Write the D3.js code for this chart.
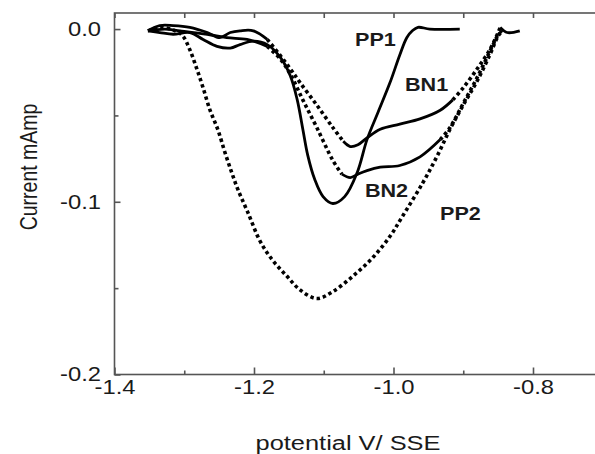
<!DOCTYPE html>
<html>
<head>
<meta charset="utf-8">
<script src="https://cdn.jsdelivr.net/npm/d3@7"></script>
<style>
  body { margin: 0; background: #fff; }
  text { font-family: "Liberation Sans", Arial, sans-serif; fill: #1a1a1a; }
</style>
</head>
<body>
<div id="chart"></div>
<script>
// curves: [potential V, current mA]
const pp1 = [[-1.352,-0.001],[-1.335,-0.002],[-1.316,-0.003],[-1.292,-0.002],[-1.273,-0.006],[-1.253,-0.010],
  [-1.234,-0.011],[-1.220,-0.009],[-1.201,-0.007],[-1.181,-0.009],[-1.163,-0.016],[-1.148,-0.027],[-1.138,-0.041],
  [-1.130,-0.058],[-1.123,-0.073],[-1.113,-0.087],[-1.101,-0.097],[-1.087,-0.101],[-1.070,-0.097],[-1.052,-0.083],
  [-1.038,-0.064],[-1.022,-0.048],[-1.005,-0.031],[-0.991,-0.015],[-0.981,-0.005],[-0.973,-0.001],[-0.965,0.001],
  [-0.948,0.000],[-0.905,0.000]];
const bn1 = [[-1.352,-0.001],[-1.335,0.002],[-1.316,0.002],[-1.292,0.001],[-1.267,-0.002],[-1.249,-0.005],
  [-1.234,-0.002],[-1.220,-0.001],[-1.201,-0.001],[-1.181,-0.006],[-1.163,-0.015],[-1.148,-0.023],[-1.134,-0.031],
  [-1.110,-0.044],[-1.087,-0.057],[-1.072,-0.065],[-1.062,-0.068],[-1.051,-0.067],[-1.038,-0.063],[-1.019,-0.058],
  [-0.991,-0.055],[-0.962,-0.052],[-0.933,-0.047],[-0.915,-0.041],[-0.900,-0.034],[-0.880,-0.023],[-0.862,-0.012],
  [-0.850,-0.002],[-0.847,0.001],[-0.837,-0.002],[-0.819,-0.001]];
const bn2 = [[-1.352,-0.001],[-1.328,0.000],[-1.306,-0.001],[-1.267,-0.003],[-1.239,-0.005],[-1.210,-0.006],
  [-1.181,-0.010],[-1.163,-0.017],[-1.148,-0.026],[-1.130,-0.041],[-1.110,-0.057],[-1.087,-0.076],[-1.074,-0.084],
  [-1.062,-0.086],[-1.051,-0.084],[-1.038,-0.082],[-1.019,-0.080],[-0.991,-0.079],[-0.962,-0.074],[-0.933,-0.064],
  [-0.919,-0.057],[-0.900,-0.043],[-0.880,-0.028],[-0.862,-0.013],[-0.850,-0.003],[-0.844,-0.001]];
const pp2 = [[-1.352,-0.001],[-1.335,0.001],[-1.313,-0.001],[-1.302,-0.004],[-1.292,-0.012],[-1.282,-0.023],
  [-1.273,-0.034],[-1.263,-0.047],[-1.252,-0.058],[-1.242,-0.071],[-1.232,-0.083],[-1.223,-0.093],[-1.209,-0.106],
  [-1.191,-0.123],[-1.173,-0.134],[-1.153,-0.143],[-1.134,-0.151],[-1.110,-0.156],[-1.087,-0.152],[-1.058,-0.143],
  [-1.029,-0.132],[-1.005,-0.120],[-0.988,-0.109],[-0.958,-0.089],[-0.938,-0.074],[-0.919,-0.058],[-0.900,-0.044],
  [-0.880,-0.030],[-0.862,-0.015],[-0.850,-0.004],[-0.844,-0.001]];

const xMajorTicks = [-1.4, -1.2, -1.0, -0.8];
const xMinorTicks = [-1.3, -1.1, -0.9, -0.7];
const yMajorTicks = [0.0, -0.1, -0.2];
const yMinorTicks = [-0.05, -0.15];

var W = 595, H = 454;
var frame = {left: 114.5, top: 13, right: 602.75, bottom: 374.5};
var stretch = 1.22; // the source picture is widened horizontally

var svg = d3.select("#chart").append("svg")
    .attr("width", W).attr("height", H);

var x = d3.scaleLinear().domain([-1.4, -0.7]).range([frame.left, frame.right]);
var y = d3.scaleLinear().domain([-0.2, 0.0093]).range([frame.bottom, frame.top]);

var fmt = function(d) { return d.toFixed(1); };

// frame
svg.append("rect")
  .attr("x", frame.left).attr("y", frame.top)
  .attr("width", frame.right - frame.left).attr("height", frame.bottom - frame.top)
  .attr("fill", "none").attr("stroke", "#555").attr("stroke-width", 1.6);

function tidy(g) {
  g.select(".domain").remove();
  g.selectAll(".tick line").attr("stroke", "#555").attr("stroke-width", 1.6);
}

// bottom axis
svg.append("g").attr("transform", "translate(0," + frame.bottom + ")")
  .call(d3.axisBottom(x).tickValues(xMajorTicks).tickSize(-7).tickPadding(6).tickFormat(fmt))
  .call(tidy)
  .selectAll("text").attr("font-size", 19.5).attr("fill", "#1a1a1a")
    .attr("transform", "scale(" + stretch + ",1)");
svg.append("g").attr("transform", "translate(0," + frame.bottom + ")")
  .call(d3.axisBottom(x).tickValues(xMinorTicks).tickSize(-4).tickFormat(""))
  .call(tidy);

// top axis
svg.append("g").attr("transform", "translate(0," + frame.top + ")")
  .call(d3.axisTop(x).tickValues(xMajorTicks.concat(xMinorTicks)).tickSize(-5).tickFormat(""))
  .call(tidy);

// left axis
svg.append("g").attr("transform", "translate(" + frame.left + ",0)")
  .call(d3.axisLeft(y).tickValues(yMajorTicks).tickSize(-6).tickPadding(11).tickFormat(fmt))
  .call(tidy)
  .selectAll("text").attr("font-size", 19.5).attr("fill", "#1a1a1a")
    .attr("transform", "scale(" + stretch + ",1)");
svg.append("g").attr("transform", "translate(" + frame.left + ",0)")
  .call(d3.axisLeft(y).tickValues(yMinorTicks).tickSize(-4).tickFormat(""))
  .call(tidy);

// axis titles
svg.append("text")
  .attr("transform", "translate(348,450) scale(1.27,1)")
  .attr("text-anchor", "middle").attr("font-size", 20)
  .text("potential V/ SSE");
svg.append("text")
  .attr("transform", "translate(37,167) scale(1.25,1) rotate(-90)")
  .attr("text-anchor", "middle").attr("font-size", 19.5)
  .text("Current mAmp");

// split a curve into runs: steep stretches show as separate square dots
function runs(pts, mode) {
  if (mode !== "auto") return [{style: mode, pts: pts}];
  var out = [], cur = null;
  for (var i = 0; i < pts.length - 1; i++) {
    var a = pts[i], b = pts[i + 1];
    var slope = Math.abs((y(b[1]) - y(a[1])) / (x(b[0]) - x(a[0])));
    var style = slope > 0.9 ? "dot" : "solid";
    if (!cur || cur.style !== style) { cur = {style: style, pts: [a]}; out.push(cur); }
    cur.pts.push(b);
  }
  return out;
}

var line = d3.line()
  .x(function(d) { return x(d[0]); })
  .y(function(d) { return y(d[1]); })
  .curve(d3.curveCatmullRom.alpha(0.5));

var curves = [
  {name: "PP2", data: pp2, mode: "dot"},
  {name: "BN2", data: bn2, mode: "auto"},
  {name: "BN1", data: bn1, mode: "auto"},
  {name: "PP1", data: pp1, mode: "solid"}
];

curves.forEach(function(c) {
  runs(c.data, c.mode).forEach(function(r) {
    svg.append("path")
      .datum(r.pts)
      .attr("fill", "none")
      .attr("stroke", "#000")
      .attr("stroke-width", r.style === "dot" ? 3.6 : 2.8)
      .attr("stroke-dasharray", r.style === "dot" ? "3.4,3" : null)
      .attr("stroke-linejoin", "round")
      .attr("d", line);
  });
});

// curve labels, anchored in data coordinates
var labels = [
  {name: "PP1", v: -1.0552, i: -0.0098},
  {name: "BN1", v: -0.9835, i: -0.0358},
  {name: "BN2", v: -1.041, i: -0.0971},
  {name: "PP2", v: -0.9333, i: -0.1104}
];
svg.selectAll(".lab").data(labels).enter().append("text")
  .attr("class", "lab")
  .attr("transform", function(d) { return "translate(" + x(d.v) + "," + y(d.i) + ") scale(1.2,1)"; })
  .attr("font-size", 18).attr("font-weight", "bold")
  .text(function(d) { return d.name; });
</script>
</body>
</html>
